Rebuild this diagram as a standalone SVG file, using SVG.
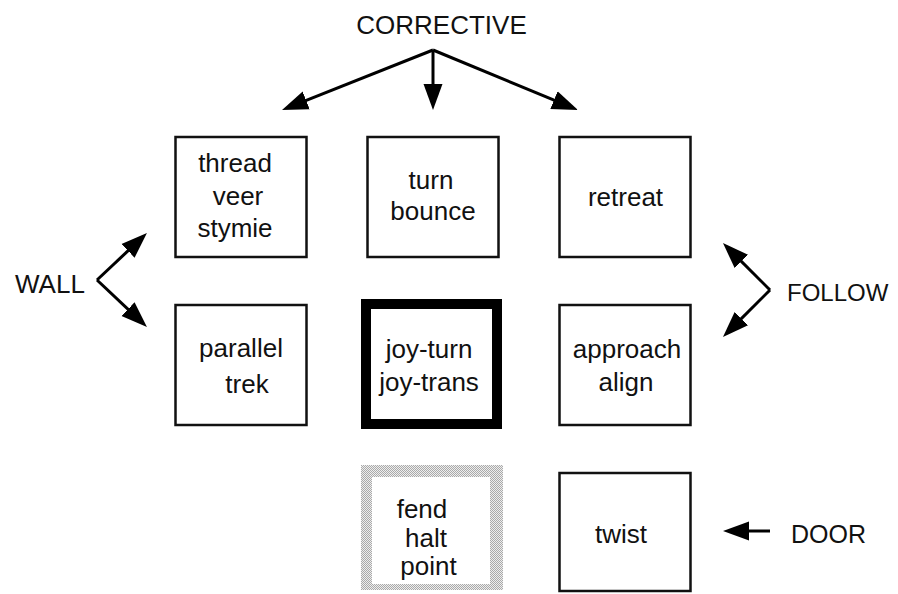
<svg xmlns="http://www.w3.org/2000/svg" width="898" height="594" viewBox="0 0 898 594">
  <style>
    .box { fill: #fff; stroke: #111; stroke-width: 2.5; }
    .thick { fill: #fff; stroke: #000; stroke-width: 10; }
    .t { font-family: "Liberation Sans", Arial, Helvetica, sans-serif; font-size: 26px; fill: #111; text-anchor: middle; }
    .lbl { font-family: "Liberation Sans", Arial, Helvetica, sans-serif; font-size: 26px; fill: #111; }
    .conn { stroke: #000; stroke-width: 3; fill: none; marker-end: url(#head); }
  </style>
  <defs>
    <marker id="head" markerUnits="userSpaceOnUse" markerWidth="28" markerHeight="22" viewBox="0 -11 28 22" refX="6" refY="0" orient="auto">
      <path d="M0,-9.5 L26,0 L0,9.5 Z" fill="#000"/>
    </marker>
    <pattern id="dither" width="2" height="2" patternUnits="userSpaceOnUse">
      <rect width="2" height="2" fill="#eeeeee"/>
      <rect width="1" height="1" fill="#aaa"/>
      <rect x="1" y="1" width="1" height="1" fill="#aaa"/>
    </pattern>
  </defs>
  <rect width="898" height="594" fill="#fff"/>

  <!-- group labels -->
  <text class="lbl" x="441.5" y="34" text-anchor="middle">CORRECTIVE</text>
  <text class="lbl" x="15" y="293">WALL</text>
  <text class="lbl" x="787" y="301" style="font-size:24px">FOLLOW</text>
  <text class="lbl" x="791" y="543" style="font-size:25px">DOOR</text>

  <!-- connectors -->
  <g id="connectors">
    <polyline class="conn" points="433,50 300.6,102.6"/>
    <polyline class="conn" points="433,50 433,90"/>
    <polyline class="conn" points="433,50 559.5,102.4"/>
    <polyline class="conn" points="97,280 132.4,246.7"/>
    <polyline class="conn" points="97,280 132.4,313.3"/>
    <polyline class="conn" points="770,290 737.1,257.1"/>
    <polyline class="conn" points="770,290 737.1,322.9"/>
    <polyline class="conn" points="770,531 743,531"/>
  </g>

  <!-- row 1 -->
  <g id="thread">
    <rect class="box" x="175.5" y="137" width="131" height="120"/>
    <text class="t" x="235" y="172">thread</text>
    <text class="t" x="238" y="205">veer</text>
    <text class="t" x="235" y="237">stymie</text>
  </g>
  <g id="turn">
    <rect class="box" x="367.5" y="137" width="131" height="120"/>
    <text class="t" x="431" y="189">turn</text>
    <text class="t" x="433" y="220">bounce</text>
  </g>
  <g id="retreat">
    <rect class="box" x="559.5" y="137" width="131" height="120"/>
    <text class="t" x="625.5" y="206">retreat</text>
  </g>

  <!-- row 2 -->
  <g id="parallel">
    <rect class="box" x="175.5" y="305" width="131" height="120"/>
    <text class="t" x="241" y="357">parallel</text>
    <text class="t" x="247" y="393">trek</text>
  </g>
  <g id="joy">
    <rect class="thick" x="366" y="304" width="131" height="120"/>
    <text class="t" x="429" y="358">joy-turn</text>
    <text class="t" x="429" y="391">joy-trans</text>
  </g>
  <g id="approach">
    <rect class="box" x="559.5" y="305" width="131" height="120"/>
    <text class="t" x="627" y="358">approach</text>
    <text class="t" x="626" y="391">align</text>
  </g>

  <!-- row 3 -->
  <g id="fend">
    <path d="M361,465 H503 V590 H361 Z M372,477 V584 H490 V477 Z" fill="url(#dither)" fill-rule="evenodd"/>
    <text class="t" x="422" y="518">fend</text>
    <text class="t" x="426" y="547">halt</text>
    <text class="t" x="428.5" y="575">point</text>
  </g>
  <g id="twist">
    <rect class="box" x="559.5" y="473" width="131" height="118"/>
    <text class="t" x="621" y="543">twist</text>
  </g>
</svg>
